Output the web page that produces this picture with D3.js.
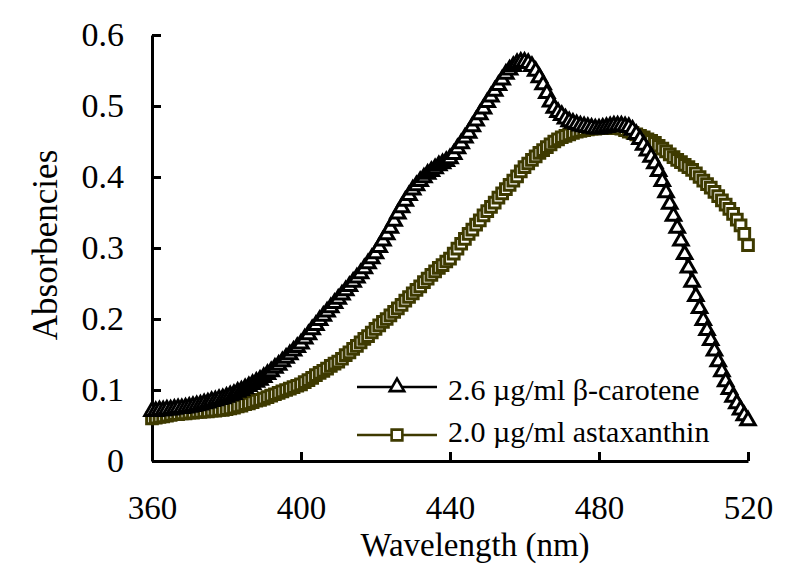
<!DOCTYPE html>
<html>
<head>
<meta charset="utf-8">
<title>Absorbencies</title>
<script src="https://cdn.jsdelivr.net/npm/d3@7"></script>
<style>
  body { margin: 0; background: #fff; }
</style>
</head>
<body>
<div id="chart"></div>
<script>
// wavelength grid, 1 nm steps
var wavelengths = d3.range(360, 521);

// 2.6 ug/ml beta-carotene
var betaCarotene = [
  0.070, 0.070, 0.071, 0.071, 0.072, 0.072, 0.073, 0.074, 0.074, 0.075,
  0.076, 0.077, 0.078, 0.079, 0.081, 0.082, 0.084, 0.085, 0.087, 0.088,
  0.090, 0.092, 0.094, 0.097, 0.099, 0.102, 0.105, 0.108, 0.111, 0.114,
  0.118, 0.122, 0.126, 0.131, 0.135, 0.140, 0.145, 0.150, 0.155, 0.160,
  0.165, 0.172, 0.178, 0.185, 0.191, 0.198, 0.204, 0.210, 0.216, 0.222,
  0.228, 0.234, 0.240, 0.246, 0.252, 0.258, 0.264, 0.271, 0.278, 0.285,
  0.292, 0.301, 0.310, 0.319, 0.328, 0.338, 0.348, 0.357, 0.366, 0.374,
  0.382, 0.388, 0.394, 0.399, 0.404, 0.408, 0.412, 0.416, 0.419, 0.422,
  0.426, 0.432, 0.440, 0.447, 0.455, 0.462, 0.471, 0.479, 0.488, 0.496,
  0.505, 0.513, 0.521, 0.529, 0.537, 0.545, 0.551, 0.556, 0.560, 0.562,
  0.562, 0.560, 0.556, 0.549, 0.540, 0.530, 0.518, 0.506, 0.497, 0.491,
  0.487, 0.482, 0.478, 0.476, 0.474, 0.472, 0.471, 0.470, 0.469, 0.468,
  0.468, 0.469, 0.470, 0.471, 0.472, 0.472, 0.472, 0.471, 0.470, 0.466,
  0.460, 0.453, 0.445, 0.437, 0.428, 0.419, 0.408, 0.394, 0.378, 0.362,
  0.345, 0.328, 0.310, 0.291, 0.272, 0.252, 0.232, 0.215, 0.198, 0.184,
  0.170, 0.155, 0.140, 0.126, 0.112, 0.101, 0.090, 0.081, 0.072, 0.064,
  0.057
];

// 2.0 ug/ml astaxanthin
var astaxanthin = [
  0.060, 0.061, 0.062, 0.063, 0.064, 0.065, 0.066, 0.066, 0.067, 0.067,
  0.068, 0.068, 0.069, 0.069, 0.070, 0.070, 0.071, 0.071, 0.072, 0.072,
  0.073, 0.074, 0.075, 0.077, 0.078, 0.080, 0.081, 0.083, 0.085, 0.086,
  0.088, 0.090, 0.092, 0.094, 0.096, 0.098, 0.100, 0.102, 0.104, 0.106,
  0.108, 0.111, 0.114, 0.117, 0.121, 0.124, 0.127, 0.130, 0.134, 0.137,
  0.140, 0.144, 0.149, 0.153, 0.158, 0.162, 0.167, 0.172, 0.176, 0.181,
  0.186, 0.191, 0.196, 0.200, 0.205, 0.210, 0.215, 0.220, 0.226, 0.231,
  0.236, 0.241, 0.246, 0.252, 0.257, 0.262, 0.267, 0.272, 0.276, 0.281,
  0.285, 0.292, 0.299, 0.306, 0.313, 0.320, 0.326, 0.333, 0.339, 0.346,
  0.352, 0.358, 0.364, 0.371, 0.377, 0.383, 0.389, 0.395, 0.401, 0.408,
  0.414, 0.419, 0.424, 0.429, 0.434, 0.438, 0.442, 0.446, 0.450, 0.453,
  0.456, 0.458, 0.460, 0.462, 0.464, 0.465, 0.466, 0.467, 0.468, 0.468,
  0.469, 0.469, 0.469, 0.469, 0.469, 0.469, 0.468, 0.466, 0.464, 0.462,
  0.460, 0.458, 0.456, 0.453, 0.451, 0.448, 0.444, 0.440, 0.436, 0.432,
  0.428, 0.424, 0.421, 0.417, 0.414, 0.410, 0.405, 0.400, 0.395, 0.390,
  0.385, 0.379, 0.373, 0.367, 0.361, 0.355, 0.348, 0.340, 0.332, 0.320,
  0.304
];

var xTicks = [360, 400, 440, 480, 520];
var yTicks = [0, 0.1, 0.2, 0.3, 0.4, 0.5, 0.6];
var seriesNames = ["2.6 \u00b5g/ml \u03b2-carotene", "2.0 \u00b5g/ml astaxanthin"];

var w = 800, h = 576;
var margin = {top: 35, right: 52, bottom: 115, left: 152};
var olive = "#3e3a00";
var serif = "'Liberation Serif', serif";

var svg = d3.select("#chart").append("svg")
  .attr("width", w)
  .attr("height", h);

var x = d3.scaleLinear().domain([360, 520]).range([margin.left, w - margin.right]);
var y = d3.scaleLinear().domain([0, 0.6]).range([h - margin.bottom, margin.top]);

function styleAxis(size) {
  return function(g) {
    g.attr("font-family", null);
    g.selectAll("path, line").attr("stroke", "#000").attr("stroke-width", 3);
    g.selectAll("text").style("font-family", serif).attr("font-size", size);
  };
}

// axes, ticks point inward
svg.append("g")
  .attr("transform", "translate(0," + (h - margin.bottom) + ")")
  .call(d3.axisBottom(x).tickValues(xTicks).tickSize(-9).tickSizeOuter(0).tickPadding(35))
  .call(styleAxis(33));

svg.append("g")
  .attr("transform", "translate(" + margin.left + ",0)")
  .call(d3.axisLeft(y).tickValues(yTicks).tickSize(-9).tickSizeOuter(0).tickPadding(28)
    .tickFormat(function(d) { return d === 0 ? "0" : d3.format(".1f")(d); }))
  .call(styleAxis(34));

var line = d3.line()
  .x(function(d) { return x(d[0]); })
  .y(function(d) { return y(d[1]); });

var betaData = wavelengths.map(function(wl, i) { return [wl, betaCarotene[i]]; });
var astaData = wavelengths.map(function(wl, i) { return [wl, astaxanthin[i]]; });

var tri = d3.symbol().type(d3.symbolTriangle).size(90);
var sq = d3.symbol().type(d3.symbolSquare).size(115);

// astaxanthin first, carotene on top
svg.append("path").datum(astaData)
  .attr("d", line).attr("fill", "none").attr("stroke", olive).attr("stroke-width", 2);
svg.append("g").selectAll("path")
  .data(astaData).enter().append("path")
  .attr("d", sq)
  .attr("transform", function(d) { return "translate(" + x(d[0]) + "," + y(d[1]) + ")"; })
  .attr("fill", "#fff").attr("stroke", olive).attr("stroke-width", 3);

svg.append("path").datum(betaData)
  .attr("d", line).attr("fill", "none").attr("stroke", "#000").attr("stroke-width", 2);
svg.append("g").selectAll("path")
  .data(betaData).enter().append("path")
  .attr("d", tri)
  .attr("transform", function(d) { return "translate(" + x(d[0]) + "," + y(d[1]) + ")"; })
  .attr("fill", "#fff").attr("stroke", "#000").attr("stroke-width", 3);

// legend
var legend = [
  {name: seriesNames[0], color: "#000", sym: tri, ly: 387, ty: 400},
  {name: seriesNames[1], color: olive, sym: sq, ly: 435, ty: 442}
];
var lg = svg.append("g");
legend.forEach(function(d) {
  lg.append("line").attr("x1", 357).attr("x2", 437).attr("y1", d.ly).attr("y2", d.ly)
    .attr("stroke", d.color).attr("stroke-width", 2.5);
  lg.append("path").attr("d", d.sym).attr("transform", "translate(397," + d.ly + ")")
    .attr("fill", "#fff").attr("stroke", d.color).attr("stroke-width", 2.6);
  lg.append("text").attr("x", 448).attr("y", d.ty).attr("font-size", 30)
    .style("font-family", serif).text(d.name);
});

// axis titles
svg.append("text")
  .attr("x", 475).attr("y", 556)
  .attr("text-anchor", "middle").attr("font-size", 33)
  .style("font-family", serif)
  .text("Wavelength (nm)");

svg.append("text")
  .attr("transform", "translate(57,245) rotate(-90)")
  .attr("text-anchor", "middle").attr("font-size", 35)
  .style("font-family", serif)
  .text("Absorbencies");
</script>
</body>
</html>
